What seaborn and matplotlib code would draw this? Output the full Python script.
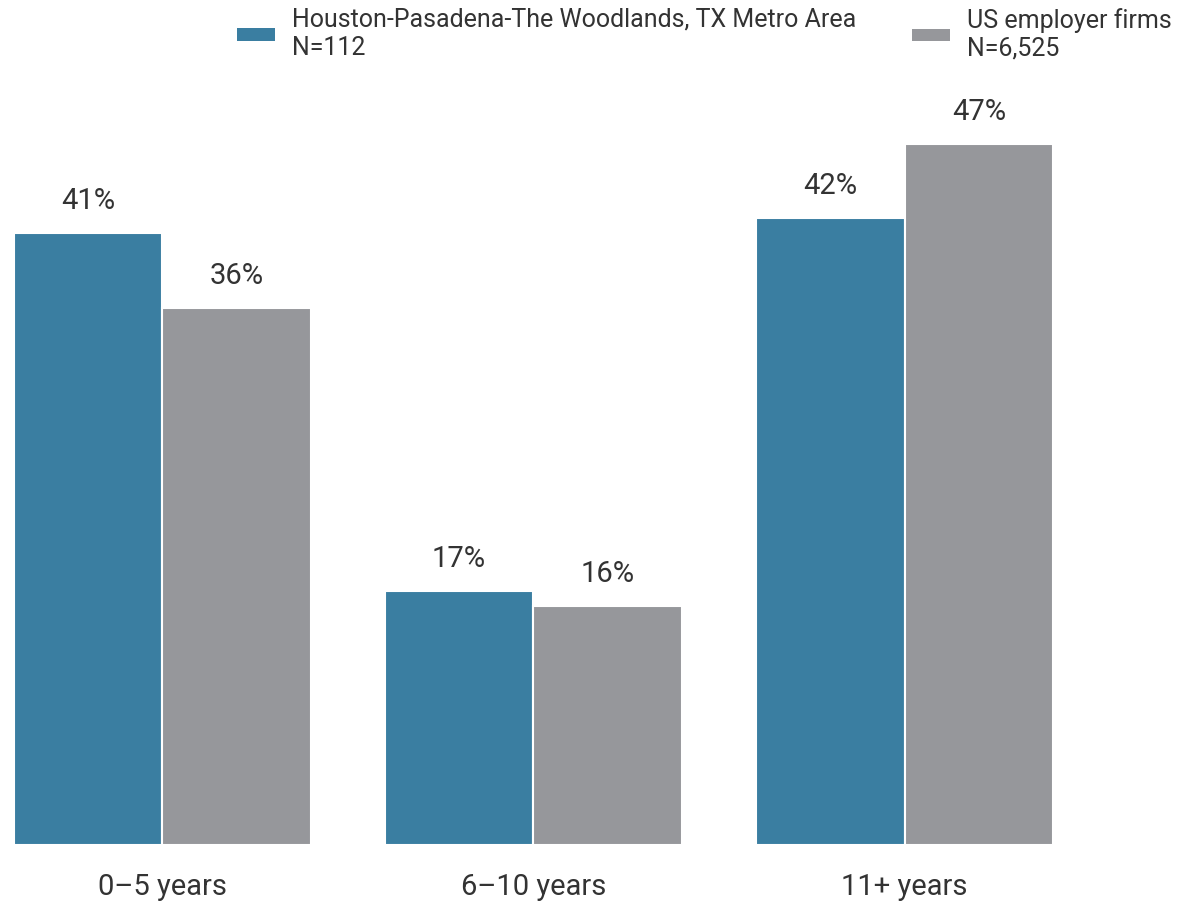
import numpy as np
import pandas as pd
import seaborn as sns
import matplotlib.pyplot as plt
from matplotlib.patches import Patch

# chart data
categories = ['0–5 years', '6–10 years', '11+ years']
series_names = ['Houston-Pasadena-The Woodlands, TX Metro Area\nN=112',
                'US employer firms\nN=6,525']
houston_vals = [41, 17, 42]
us_vals = [36, 16, 47]
colors = ['#3A7EA1', '#96979B']

df = pd.DataFrame({
    'age': categories * 2,
    'series': [series_names[0]] * 3 + [series_names[1]] * 3,
    'pct': houston_vals + us_vals,
})

sns.set_style('white')
plt.rcParams['font.family'] = ['Roboto', 'DejaVu Sans']

fig = plt.figure(figsize=(12.04, 9.08), dpi=100)
ax = fig.add_axes([0.0113, 0.0694, 0.8633, 0.8216])

sns.barplot(data=df, x='age', y='pct', hue='series', hue_order=series_names,
            palette=colors, width=0.8, edgecolor='white', linewidth=1.5,
            saturation=1, ax=ax, legend=False)

# percent labels above bars
for cont in ax.containers:
    for bar in cont:
        h = bar.get_height()
        ax.annotate(f'{h:.0f}%', (bar.get_x() + bar.get_width() / 2, h),
                    xytext=(0, 13), textcoords='offset points',
                    ha='center', va='bottom', fontsize=21, color='#333333')

ax.set_ylim(0, 50)
ax.set_xlim(-0.4, 2.4)
ax.set_xlabel('')
ax.set_ylabel('')
ax.set_yticks([])
ax.tick_params(axis='x', length=0, pad=20, labelsize=21, labelcolor='#333333')
sns.despine(ax=ax, left=True, bottom=True)

# legend entries placed separately
for name, col, xpos in zip(series_names, colors, [237, 912]):
    fig.legend(handles=[Patch(facecolor=col, edgecolor='none', label=name)],
               loc='upper left', bbox_to_anchor=(xpos / 1204, 1 - 8 / 908),
               frameon=False, fontsize=18, borderpad=0, borderaxespad=0,
               handlelength=1.5, handleheight=0.4, handletextpad=0.7,
               labelcolor='#333333')

fig.savefig('out.png', dpi=100)
